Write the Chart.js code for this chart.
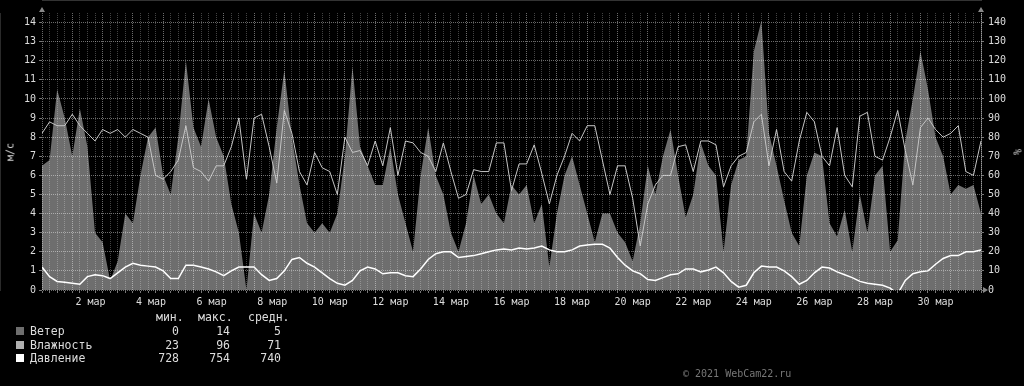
<!DOCTYPE html>
<html>
<head>
<meta charset="utf-8">
<script src="https://cdn.jsdelivr.net/npm/chart.js@4/dist/chart.umd.min.js"></script>
<style>
  body { margin: 0; background: #000; }
  #wrap { position: relative; width: 1024px; height: 386px; background: #000; overflow: hidden; }
  #wrap canvas { position: absolute; left: 0; top: 0; }
  .txt { position: absolute; font-family: "DejaVu Sans Mono", monospace; color: #ddd; white-space: pre; }
  .leg { font-size: 11.5px; line-height: 14px; }
  .num { text-align: right; width: 50px; }
  .sq { position: absolute; width: 8px; height: 8px; left: 16px; }
</style>
</head>
<body>
<div id="wrap">
  <canvas id="myChart" width="1024" height="386"></canvas>
  <div class="txt" style="font-size:10px; left:10px; top:152px; transform:translate(-50%,-50%) rotate(-90deg);">м/с</div>
  <div class="txt" style="font-size:10px; left:1017px; top:152px; transform:translate(-50%,-50%) rotate(90deg);">%</div>
  <div id="legend"></div>
  <div class="txt" style="font-size:10px; left:683px; top:368px; color:#777;">© 2021 WebCam22.ru</div>
</div>
<script>
// one value every 6 hours, 1 мар 00:00 .. 1 апр 00:00
var stepDays = 0.25;

// ветер, м/с
var windData = [
  6.5, 6.8, 10.5, 9.0, 7.0, 9.5, 7.5, 3.0, 2.5, 0.5,
  1.5, 4.0, 3.5, 6.0, 8.0, 8.5, 6.0, 5.0, 8.0, 12.0,
  8.5, 7.5, 10.0, 8.0, 7.0, 4.5, 3.0, 0, 4.0, 3.0,
  5.0, 8.5, 11.5, 8.0, 5.5, 3.5, 3.0, 3.5, 3.0, 4.0,
  7.0, 11.7, 7.5, 6.5, 5.5, 5.5, 7.5, 5.0, 3.5, 2.0,
  6.0, 8.5, 6.0, 5.0, 3.0, 2.0, 3.5, 6.0, 4.5, 5.0,
  4.0, 3.5, 5.5, 5.0, 5.5, 3.5, 4.5, 1.2, 4.0, 6.0,
  7.0, 5.5, 4.0, 2.5, 4.0, 4.0, 3.0, 2.5, 1.5, 3.5,
  6.5, 5.0, 7.0, 8.4, 6.0, 3.8, 5.0, 7.7, 6.5, 6.0,
  2.0, 5.5, 6.8, 7.0, 12.5, 14.1, 8.2, 6.5, 4.7, 3.0,
  2.3, 6.0, 7.2, 7.0, 3.5, 2.8, 4.2, 2.0, 5.0, 3.0,
  6.0, 6.5, 2.0, 2.6, 7.8, 10.0, 12.5, 10.5, 8.0, 7.0,
  5.0, 5.5, 5.3, 5.5, 4.0
];

// влажность, %
var humidityData = [
  82, 88, 86, 86, 92, 86, 82, 78, 84, 82,
  84, 80, 84, 82, 80, 60, 58, 62, 68, 86,
  64, 62, 57, 65, 65, 75, 90, 58, 90, 92,
  75, 56, 94, 82, 62, 55, 72, 64, 62, 50,
  80, 72, 73, 65, 78, 65, 85, 60, 78, 77,
  72, 70, 62, 77, 62, 48, 50, 63, 62, 62,
  77, 77, 52, 66, 66, 76, 61, 45, 60, 70,
  82, 78, 86, 86, 68, 50, 65, 65, 48, 23,
  45, 55, 60, 60, 75, 76, 62, 78, 78, 76,
  54, 65, 70, 72, 88, 92, 65, 84, 62, 57,
  78, 93, 88, 70, 65, 85, 60, 54, 91, 93,
  70, 68, 80, 94, 73, 55, 85, 90, 84, 80,
  82, 86, 62, 60, 78
];

// давление, мм рт. ст.
var pressureData = [
  742, 737, 734.5, 734, 733.5, 733, 737, 738, 737.5, 736,
  739, 742, 744, 743, 742.5, 742, 740, 736, 736, 743,
  743, 742, 741, 739.5, 737.5, 740, 742, 742, 742, 738,
  735, 736, 740, 746, 747, 744, 742, 739, 736, 733.5,
  732.5, 735, 740, 742, 741, 738.5, 739, 739, 737.5, 737,
  741, 746, 749, 750, 750, 747, 747.5, 748, 749, 750,
  751, 751.5, 751, 752, 751.5, 752, 753, 751, 750, 750,
  751, 753, 753.5, 754, 754, 752, 747, 743, 740, 738.5,
  735.5, 735, 736.5, 738, 738.5, 741, 741, 739.5, 740.5, 742,
  739, 734.5, 731.5, 732.5, 739, 742.5, 742, 742, 740, 737,
  733, 735, 739, 742, 741.5, 739.5, 738, 736.5, 734.5, 733.5,
  733, 732.5, 731, 728, 735, 738.5, 739.5, 740, 743.5, 746.5,
  748, 748, 750, 750, 751
];

// pressure is drawn as (p - 730) / 10 on the m/s axis
var pressureBase = 730;
var pressureScale = 10;

var xLabels = [" 2 мар", " 4 мар", " 6 мар", " 8 мар", "10 мар", "12 мар", "14 мар", "16 мар",
  "18 мар", "20 мар", "22 мар", "24 мар", "26 мар", "28 мар", "30 мар"];

var legendNames = ["Ветер", "Влажность", "Давление"];
var legendColors = ["#6e6e6e", "#b0b0b0", "#ffffff"];
var legendMin = [0, 23, 728];
var legendMax = [14, 96, 754];
var legendAvg = [5, 71, 740];

function toPoints(values, f) {
  return values.map(function (v, i) {
    return { x: i * stepDays, y: f ? f(v) : v };
  });
}

var majorGrid = "rgba(255,255,255,0.42)";
var minorGrid = "rgba(255,255,255,0.26)";
var monoFont = { family: "DejaVu Sans Mono", size: 10 };

var arrows = {
  id: "arrows",
  afterDraw: function (chart) {
    var ctx = chart.ctx, a = chart.chartArea;
    ctx.save();
    ctx.fillStyle = "#888";
    [a.left, a.right].forEach(function (x) {
      ctx.beginPath();
      ctx.moveTo(x - 3, 12);
      ctx.lineTo(x + 3, 12);
      ctx.lineTo(x, 7);
      ctx.fill();
    });
    ctx.beginPath();
    ctx.moveTo(a.right + 2, a.bottom - 3);
    ctx.lineTo(a.right + 2, a.bottom + 3);
    ctx.lineTo(a.right + 7, a.bottom);
    ctx.fill();
    ctx.restore();
  }
};

var ctx = document.getElementById("myChart").getContext("2d");
var myChart = new Chart(ctx, {
  type: "line",
  data: {
    datasets: [
      {
        label: "Ветер",
        data: toPoints(windData),
        yAxisID: "y",
        backgroundColor: legendColors[0],
        borderWidth: 0,
        fill: "origin",
        pointRadius: 0,
        order: 3,
      },
      {
        label: "Влажность",
        data: toPoints(humidityData),
        yAxisID: "y2",
        borderColor: "#c4c4c4",
        borderWidth: 1,
        fill: false,
        pointRadius: 0,
        order: 2,
      },
      {
        label: "Давление",
        data: toPoints(pressureData, function (p) { return (p - pressureBase) / pressureScale; }),
        yAxisID: "y",
        borderColor: legendColors[2],
        borderWidth: 1.5,
        fill: false,
        pointRadius: 0,
        order: 1,
      },
    ],
  },
  options: {
    responsive: false,
    animation: false,
    events: [],
    layout: { padding: { top: 13, left: 0, right: 0, bottom: 0 } },
    plugins: { legend: { display: false }, tooltip: { enabled: false } },
    scales: {
      x: {
        type: "linear",
        min: 0,
        max: 31,
        afterBuildTicks: function (s) {
          var t = [];
          for (var k = 0; k <= 124; k++) t.push({ value: k * stepDays });
          s.ticks = t;
        },
        afterFit: function (s) { s.height = 96; },
        ticks: {
          autoSkip: false,
          maxRotation: 0,
          padding: 3,
          color: "#ddd",
          font: monoFont,
          callback: function (v) {
            var k = (v - 1.5) / 2;
            return (Number.isInteger(k) && k >= 0 && k < xLabels.length) ? xLabels[k] : "";
          },
        },
        grid: {
          z: 1,
          color: function (c) { return Number.isInteger(c.tick.value) ? majorGrid : minorGrid; },
          tickColor: "#777",
          tickLength: 3,
        },
        border: { color: "#666", dash: [1, 1] },
      },
      y: {
        position: "left",
        min: 0,
        max: 14.5,
        afterBuildTicks: function (s) {
          var t = [];
          for (var k = 0; k <= 28; k++) t.push({ value: k / 2 });
          s.ticks = t;
        },
        afterFit: function (s) { s.width = 42; },
        ticks: {
          padding: 3,
          color: "#ddd",
          font: monoFont,
          callback: function (v) { return Number.isInteger(v) ? String(v) : ""; },
        },
        grid: {
          z: 1,
          color: function (c) { return Number.isInteger(c.tick.value) ? majorGrid : minorGrid; },
          tickColor: "#777",
          tickLength: 3,
        },
        border: { color: "#555", dash: [1, 1] },
      },
      y2: {
        position: "right",
        min: 0,
        max: 145,
        afterBuildTicks: function (s) {
          var t = [];
          for (var k = 0; k <= 14; k++) t.push({ value: k * 10 });
          s.ticks = t;
        },
        afterFit: function (s) { s.width = 43; },
        ticks: { padding: 4, color: "#ddd", font: monoFont },
        grid: { drawOnChartArea: false, tickColor: "#777", tickLength: 3 },
        border: { color: "#555" },
      },
    },
  },
  plugins: [arrows],
});

// legend table under the chart
var leg = document.getElementById("legend");
function addText(text, left, top, cls) {
  var d = document.createElement("div");
  d.className = "txt leg " + (cls || "");
  d.style.left = left + "px";
  d.style.top = top + "px";
  d.textContent = text;
  leg.appendChild(d);
}
addText("мин.", 156, 310);
addText("макс.", 198, 310);
addText("средн.", 248, 310);
legendNames.forEach(function (name, i) {
  var top = 324 + i * 13.7;
  var sq = document.createElement("div");
  sq.className = "sq";
  sq.style.top = (top + 3) + "px";
  sq.style.background = legendColors[i];
  leg.appendChild(sq);
  addText(name, 30, top);
  addText(String(legendMin[i]), 129, top, "num");
  addText(String(legendMax[i]), 180, top, "num");
  addText(String(legendAvg[i]), 231, top, "num");
});
</script>
</body>
</html>
